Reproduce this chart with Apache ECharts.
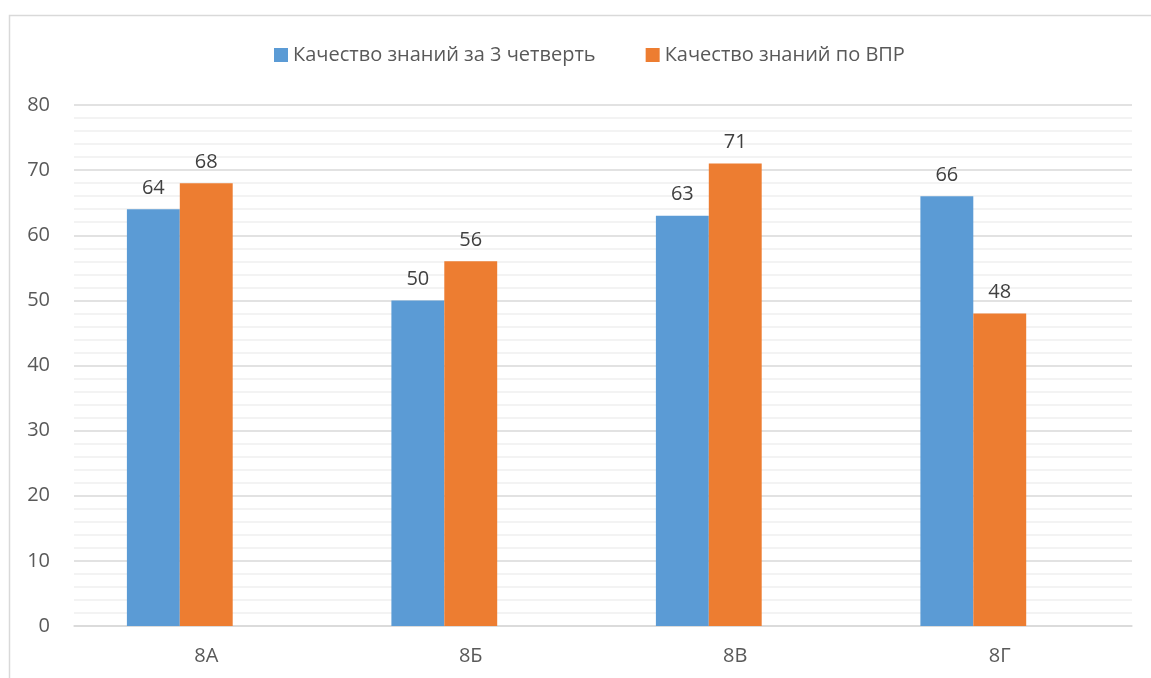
<!DOCTYPE html>
<html>
<head>
<meta charset="utf-8">
<script src="https://cdn.jsdelivr.net/npm/echarts@6/dist/echarts.min.js"></script>
<style>
  html, body { margin: 0; padding: 0; background: #fff; }
  #chart { width: 1151px; height: 678px; }
</style>
</head>
<body>
<div id="chart"></div>
<script>
const classes = ['8А', '8Б', '8В', '8Г']
const quarterValues = [64, 50, 63, 66]
const vprValues = [68, 56, 71, 48]
const seriesNames = ['Качество знаний за 3 четверть', 'Качество знаний по ВПР']
// third, empty slot in each group (the source chart keeps room for it)
const emptyValues = [null, null, null, null]

const font = '"Open Sans", "Noto Sans", sans-serif'
const textColor = '#595959'

const chart = echarts.init(document.getElementById('chart'))

const barLabel = {
  show: true,
  position: 'top',
  distance: 11,
  fontFamily: font,
  fontSize: 20,
  color: '#404040',
}

chart.setOption({
  animation: false,
  textStyle: { fontFamily: font },
  graphic: [{
    type: 'rect',
    silent: true,
    shape: { x: 9.5, y: 15.5, width: 1300, height: 800 },
    style: { fill: 'none', stroke: '#d9d9d9', lineWidth: 1.5 },
  }],
  legend: {
    data: seriesNames,
    top: 40,
    left: 269,
    itemWidth: 14,
    itemHeight: 14,
    itemGap: 50,
    icon: 'rect',
    textStyle: { fontFamily: font, fontSize: 20, color: textColor },
  },
  grid: { left: 74, right: 19, top: 105, bottom: 52 },
  xAxis: {
    type: 'category',
    data: classes,
    axisLine: { lineStyle: { color: '#d9d9d9', width: 1.5 } },
    axisTick: { show: false },
    axisLabel: { fontFamily: font, fontSize: 20, color: textColor, margin: 20 },
  },
  yAxis: {
    type: 'value',
    min: 0,
    max: 80,
    interval: 10,
    axisLine: { show: false },
    axisTick: { show: false },
    axisLabel: { fontFamily: font, fontSize: 20, color: textColor, margin: 24 },
    splitLine: { lineStyle: { color: '#d9d9d9', width: 1.5 } },
    minorTick: { show: false, splitNumber: 5 },
    minorSplitLine: { show: true, lineStyle: { color: '#f0f0f0', width: 1.5 } },
  },
  series: [
    {
      name: seriesNames[0],
      type: 'bar',
      data: quarterValues,
      barGap: '0%',
      barCategoryGap: '40%',
      itemStyle: { color: '#5b9bd5' },
      label: barLabel,
    },
    {
      name: seriesNames[1],
      type: 'bar',
      data: vprValues,
      itemStyle: { color: '#ed7d31' },
      label: barLabel,
    },
    {
      name: '',
      type: 'bar',
      data: emptyValues,
      itemStyle: { color: 'transparent' },
    },
  ],
})
</script>
</body>
</html>
